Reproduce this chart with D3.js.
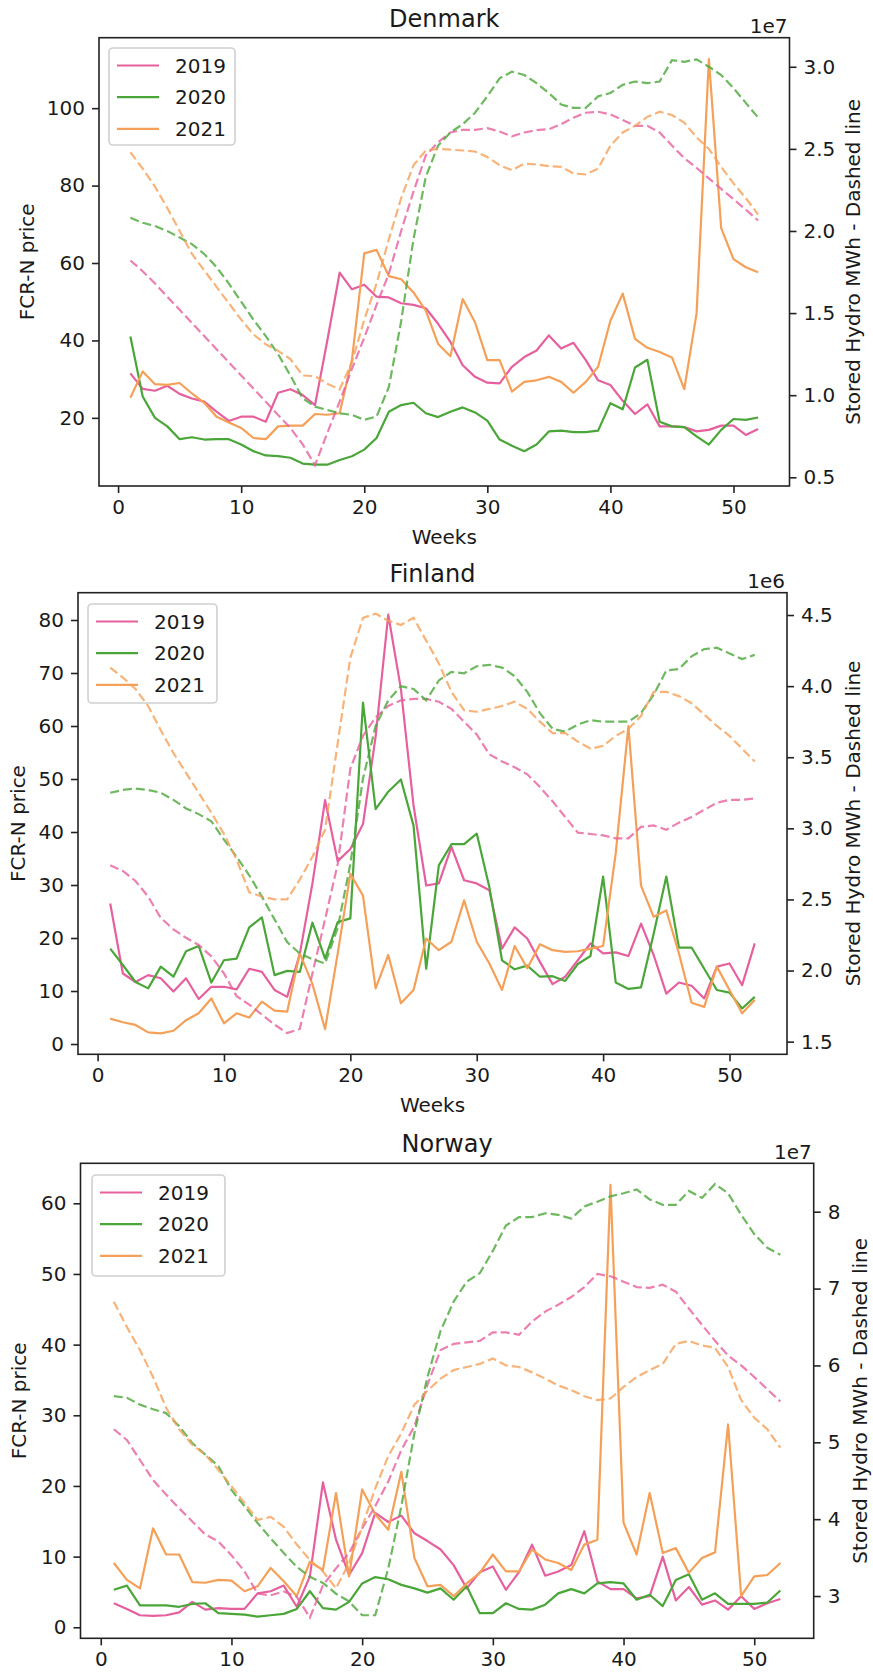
<!DOCTYPE html>
<html><head><meta charset="utf-8">
<script src="https://cdn.jsdelivr.net/npm/d3@7"></script>
<style>
body{margin:0;background:#fff}
text{font-family:"DejaVu Sans",sans-serif;fill:#1a1a1a}
</style>
</head><body>
<svg id="c" width="873" height="1677"></svg>
<script>
// ---------- DATA ----------
const weeks = d3.range(1, 53);
const years = ["2019", "2020", "2021"];
const colors = ["#e6609e", "#4aa638", "#f5a058"];
const xTicks = [0, 10, 20, 30, 40, 50];

// Denmark FCR-N price
const dk_price_2019 = [31.5,27.5,27,28.3,26.2,25,24.2,21.6,19.2,20.3,20.3,19,26.5,27.4,25.9,23.3,40,57.5,53.2,54.4,51.3,51.1,49.6,49.2,48.3,44.3,39.6,33.6,30.6,29.1,28.9,33.2,35.7,37.4,41.3,37.9,39.4,34.9,29.7,28.5,24.4,21,23.5,17.8,17.8,17.6,16.5,16.9,18,18,15.6,17.1];
const dk_price_2020 = [41,25.5,20,17.8,14.5,15,14.4,14.5,14.5,13.1,11.4,10.3,10.1,9.7,8.2,7.9,7.9,9.1,10.1,11.8,14.8,21.6,23.3,23.9,21.2,20.2,21.6,22.7,21.4,19.3,14.4,12.8,11.4,13.1,16.5,16.7,16.3,16.3,16.7,23.8,22.2,33,35,19,17.8,17.6,15.2,13.1,16.9,19.7,19.5,20.1];
const dk_price_2021 = [25.2,32,28.7,28.5,29,26.3,23.9,20.3,18.8,17.4,14.8,14.5,17.8,18,18,21,20.8,21.2,35,62.5,63.4,56.6,55.8,52.4,47.7,39.1,35.9,50.7,44.7,34.9,34.9,26.8,29.3,29.7,30.6,29.3,26.5,29.3,33.2,45.1,52.1,40.4,38.1,37,35.6,27.4,47,112.7,69,61,58.9,57.6];
// Denmark stored hydro (x 1e7 MWh)
const dk_hydro_2019 = [1.82,1.755,1.68,1.6,1.52,1.44,1.36,1.28,1.2,1.12,1.04,0.96,0.88,0.8,0.7,0.574,0.77,0.96,1.16,1.35,1.55,1.74,2.0,2.24,2.46,2.54,2.6,2.616,2.616,2.626,2.606,2.576,2.6,2.614,2.62,2.65,2.69,2.72,2.726,2.71,2.676,2.64,2.64,2.6,2.52,2.444,2.384,2.32,2.256,2.194,2.13,2.064];
const dk_hydro_2020 = [2.08,2.05,2.03,2.0,1.96,1.92,1.86,1.78,1.68,1.57,1.46,1.36,1.25,1.12,0.98,0.93,0.91,0.89,0.88,0.85,0.87,1.05,1.45,1.95,2.33,2.52,2.6,2.65,2.72,2.82,2.93,2.97,2.95,2.9,2.84,2.77,2.75,2.75,2.82,2.84,2.89,2.91,2.9,2.91,3.04,3.03,3.045,3.0,2.95,2.87,2.78,2.69];
const dk_hydro_2021 = [2.48,2.38,2.27,2.14,2.0,1.86,1.76,1.66,1.56,1.46,1.37,1.31,1.27,1.22,1.12,1.116,1.07,1.035,1.2,1.46,1.68,1.95,2.2,2.4,2.49,2.5,2.495,2.49,2.484,2.45,2.4,2.37,2.41,2.405,2.395,2.39,2.35,2.345,2.38,2.52,2.6,2.64,2.695,2.726,2.706,2.66,2.57,2.5,2.39,2.29,2.2,2.1];

// Finland FCR-N price
const fi_price_2019 = [26.5,13.3,11.7,13,12.4,9.9,12.4,8.5,10.8,10.8,10.3,14.2,13.6,10.2,8.9,17,30.3,46,34.5,36.8,41.5,58,81,67,45,29.9,30.3,37.2,30.9,30.3,29,18,22,19.9,15.5,11.3,12.7,15.8,19,17.1,17.3,16.6,22.7,16.8,9.5,11.6,11,8.6,14.6,15.2,11.1,19];
const fi_price_2020 = [18,14.9,11.7,10.5,14.6,12.7,17.5,18.5,11.6,15.8,16.1,22,23.9,13,13.8,13.6,22.9,16.1,23,23.7,64.4,44.3,47.6,49.9,41.2,14.2,33.7,37.7,37.7,39.7,29.6,15.8,14.1,14.8,12.7,12.8,11.9,15.1,16.6,31.6,11.6,10.4,10.7,20.8,31.6,18.2,18.2,14.2,10.2,9.7,6.7,8.9];
const fi_price_2021 = [4.8,4.1,3.6,2.2,2.0,2.5,4.5,5.8,8.6,3.9,5.8,5.0,8.0,6.3,6.1,17.1,11.3,2.8,17.1,32.1,28,10.5,16.8,7.7,10.2,19.9,17.7,19.3,27.1,19.3,15.2,10.2,18.5,14.3,18.8,17.7,17.4,17.5,18,18.5,36,60,29.9,24,25.2,17.1,7.8,7,14.6,10.2,5.8,8.3];
// Finland stored hydro (x 1e6 MWh)
const fi_hydro_2019 = [2.74,2.7,2.63,2.52,2.37,2.29,2.23,2.18,2.1,1.98,1.82,1.76,1.69,1.62,1.56,1.59,1.98,2.36,2.75,3.42,3.65,3.78,3.86,3.9,3.91,3.91,3.89,3.84,3.75,3.66,3.52,3.47,3.43,3.38,3.29,3.19,3.08,2.97,2.96,2.95,2.93,2.93,3.01,3.02,2.99,3.04,3.08,3.13,3.18,3.2,3.2,3.21];
const fi_hydro_2020 = [3.25,3.27,3.28,3.27,3.25,3.2,3.14,3.1,3.05,2.92,2.8,2.67,2.52,2.36,2.2,2.12,2.08,2.05,2.3,2.75,3.35,3.72,3.9,4.0,3.98,3.9,4.04,4.1,4.09,4.14,4.15,4.13,4.07,3.96,3.81,3.7,3.68,3.73,3.76,3.75,3.75,3.75,3.81,3.94,4.11,4.12,4.21,4.26,4.27,4.23,4.19,4.22];
const fi_hydro_2021 = [4.13,4.06,3.98,3.86,3.69,3.53,3.39,3.25,3.11,2.96,2.78,2.55,2.52,2.5,2.5,2.64,2.8,2.99,3.6,4.2,4.48,4.51,4.46,4.43,4.48,4.32,4.16,3.96,3.83,3.82,3.84,3.86,3.89,3.84,3.75,3.67,3.67,3.61,3.56,3.58,3.65,3.7,3.79,3.96,3.96,3.93,3.88,3.8,3.72,3.65,3.56,3.47];

// Norway FCR-N price
const no_price_2019 = [3.4,2.6,1.7,1.6,1.7,2.1,3.6,2.5,2.7,2.6,2.6,4.8,5.1,5.9,2.9,7.2,20.5,12.4,7.4,10.5,16.2,14.9,15.8,13.3,12.2,11,8.8,5.5,7.8,8.6,5.3,7.8,11.7,7.3,7.9,8.8,13.6,6.5,5.4,5.4,4.1,4.4,10,3.8,5.7,3.2,3.8,2.5,4.4,2.6,3.4,4];
const no_price_2020 = [5.3,5.9,3.1,3.1,3.1,2.9,3.3,3.4,2.0,1.9,1.8,1.5,1.7,1.9,2.6,5.1,2.7,2.5,3.6,6.2,7.1,6.8,6.0,5.5,4.9,5.5,3.9,5.8,2.0,2.0,3.4,2.6,2.5,3.2,4.8,5.4,4.8,6.2,6.4,6.2,3.9,4.6,3.0,6.7,7.5,3.9,4.8,3.3,3.3,3.3,3.5,5.2];
const no_price_2021 = [9.1,6.7,5.5,14,10.3,10.3,6.4,6.3,6.7,6.6,5.1,5.8,8.4,6.5,4.4,9.3,8.1,19,7.2,19.5,16,13.8,22,9.8,5.8,6,4.4,6.2,7.7,10.3,7.9,7.9,11,9.6,9.1,8.1,11.7,12.4,62.6,14.8,10.3,19,10.5,11.2,7.7,9.8,10.6,28.7,4.4,7.2,7.4,9.1];
// Norway stored hydro (x 1e7 MWh)
const no_hydro_2019 = [5.17,5.03,4.77,4.51,4.32,4.14,3.97,3.8,3.71,3.53,3.32,3.03,3.01,3.06,2.99,2.72,3.14,3.36,3.56,3.88,4.17,4.49,4.9,5.21,5.75,6.2,6.28,6.3,6.32,6.43,6.43,6.4,6.57,6.7,6.79,6.89,7.02,7.19,7.16,7.09,7.02,7.01,7.05,6.96,6.74,6.53,6.32,6.13,6.0,5.85,5.69,5.53];
const no_hydro_2020 = [5.6,5.58,5.49,5.43,5.38,5.21,4.99,4.84,4.69,4.38,4.17,3.95,3.75,3.56,3.38,3.25,3.17,3.03,2.93,2.75,2.75,3.36,4.17,5.12,5.85,6.45,6.83,7.09,7.2,7.49,7.82,7.93,7.93,7.98,7.96,7.91,8.07,8.13,8.2,8.24,8.29,8.16,8.09,8.09,8.27,8.18,8.36,8.24,7.96,7.71,7.53,7.44];
const no_hydro_2021 = [6.83,6.5,6.2,5.85,5.45,5.17,4.97,4.84,4.64,4.43,4.21,3.99,4.03,3.9,3.67,3.47,3.32,3.1,3.43,3.9,4.4,4.82,5.12,5.49,5.67,5.83,5.94,5.98,6.02,6.09,6.0,5.98,5.91,5.83,5.74,5.68,5.6,5.55,5.57,5.72,5.85,5.94,6.02,6.28,6.32,6.26,6.23,5.98,5.55,5.32,5.17,4.93];

// tick labels
const dk_left_ticks = [20, 40, 60, 80, 100];
const dk_right_ticks = [0.5, 1.0, 1.5, 2.0, 2.5, 3.0];
const fi_left_ticks = [0, 10, 20, 30, 40, 50, 60, 70, 80];
const fi_right_ticks = [1.5, 2.0, 2.5, 3.0, 3.5, 4.0, 4.5];
const no_left_ticks = [0, 10, 20, 30, 40, 50, 60];
const no_right_ticks = [3, 4, 5, 6, 7, 8];

// ---------- LAYOUT ----------
const panels = [
  {title:"Denmark", price:[dk_price_2019,dk_price_2020,dk_price_2021], hydro:[dk_hydro_2019,dk_hydro_2020,dk_hydro_2021],
   lt:dk_left_ticks, rt:dk_right_ticks, rfmt:d3.format(".1f"), offset:"1e7",
   box:{l:99,r:789.5,t:37.7,b:486}, yL:[2.4,118.2], yR:[0.447,3.177], xlabel:true,
   ylabX:34, yrabX:860, leg:{x:109,y:48,w:126,h:97}},
  {title:"Finland", price:[fi_price_2019,fi_price_2020,fi_price_2021], hydro:[fi_hydro_2019,fi_hydro_2020,fi_hydro_2021],
   lt:fi_left_ticks, rt:fi_right_ticks, rfmt:d3.format(".1f"), offset:"1e6",
   box:{l:78,r:787,t:592.7,b:1054.3}, yL:[-1.94,85.15], yR:[1.411,4.657], xlabel:true,
   ylabX:25, yrabX:860, leg:{x:88,y:604,w:129,h:99}},
  {title:"Norway", price:[no_price_2019,no_price_2020,no_price_2021], hydro:[no_hydro_2019,no_hydro_2020,no_hydro_2021],
   lt:no_left_ticks, rt:no_right_ticks, rfmt:d3.format("d"), offset:"1e7",
   box:{l:80.5,r:813.7,t:1163.3,b:1638.3}, yL:[-1.56,65.66], yR:[2.45,8.63], xlabel:false,
   ylabX:26, yrabX:867, leg:{x:92,y:1175,w:133,h:101}}
];

const svg = d3.select("#c");
const FS = 20;

panels.forEach(p => {
  const b = p.box;
  const x = d3.scaleLinear().domain([-1.55, 54.55]).range([b.l, b.r]);
  const yL = d3.scaleLinear().domain(p.yL).range([b.b, b.t]);
  const yR = d3.scaleLinear().domain(p.yR).range([b.b, b.t]);
  const g = svg.append("g");

  const styleAxis = sel => {
    sel.select(".domain").remove();
    sel.selectAll(".tick line").attr("stroke", "#222").attr("stroke-width", 1.6);
    sel.selectAll(".tick text").attr("font-size", FS).attr("fill", "#1a1a1a")
      .style("font-family", '"DejaVu Sans",sans-serif');
  };
  g.append("g").attr("transform", `translate(0,${b.b})`)
    .call(d3.axisBottom(x).tickValues(xTicks).tickSize(7).tickPadding(7).tickFormat(d3.format("d")))
    .call(styleAxis);
  g.append("g").attr("transform", `translate(${b.l},0)`)
    .call(d3.axisLeft(yL).tickValues(p.lt).tickSize(7).tickPadding(7).tickFormat(d3.format("d")))
    .call(styleAxis);
  g.append("g").attr("transform", `translate(${b.r},0)`)
    .call(d3.axisRight(yR).tickValues(p.rt).tickSize(7).tickPadding(7).tickFormat(p.rfmt))
    .call(styleAxis);

  const clipId = "clip" + p.title;
  svg.append("clipPath").attr("id", clipId).append("rect")
    .attr("x", b.l).attr("y", b.t).attr("width", b.r - b.l).attr("height", b.b - b.t);

  const lineL = d3.line().x((d, i) => x(weeks[i])).y(d => yL(d));
  const lineR = d3.line().x((d, i) => x(weeks[i])).y(d => yR(d));
  const plot = g.append("g").attr("clip-path", `url(#${clipId})`);
  p.price.forEach((s, k) => {
    plot.append("path").attr("d", lineL(s)).attr("fill", "none")
      .attr("stroke", colors[k]).attr("stroke-width", 2.2).attr("stroke-linejoin", "round");
  });

  // legend
  const L = p.leg;
  const lg = g.append("g");
  lg.append("rect").attr("x", L.x).attr("y", L.y).attr("width", L.w).attr("height", L.h)
    .attr("rx", 4).attr("fill", "#fff").attr("fill-opacity", 0.8).attr("stroke", "#d0d0d0").attr("stroke-width", 1.6);
  years.forEach((yr, k) => {
    const cy = L.y + 17.5 + k * 31.7;
    lg.append("line").attr("x1", L.x + 8).attr("x2", L.x + 50).attr("y1", cy).attr("y2", cy)
      .attr("stroke", colors[k]).attr("stroke-width", 2.2);
    lg.append("text").attr("x", L.x + 66).attr("y", cy).attr("dy", "0.36em").attr("font-size", FS).text(yr);
  });

  // hydro dashed lines (twin axes, on top)
  const plot2 = g.append("g").attr("clip-path", `url(#${clipId})`);
  p.hydro.forEach((s, k) => {
    plot2.append("path").attr("d", lineR(s)).attr("fill", "none")
      .attr("stroke", colors[k]).attr("stroke-width", 2.2).attr("stroke-dasharray", "9,4")
      .attr("stroke-opacity", 0.8);
  });

  g.append("rect").attr("x", b.l).attr("y", b.t).attr("width", b.r - b.l).attr("height", b.b - b.t)
    .attr("fill", "none").attr("stroke", "#222").attr("stroke-width", 1.6);

  g.append("text").attr("x", (b.l + b.r) / 2).attr("y", b.t - 11).attr("text-anchor", "middle")
    .attr("font-size", 24).text(p.title);
  g.append("text").attr("x", b.r - 2).attr("y", b.t - 4.5).attr("text-anchor", "end")
    .attr("font-size", FS).text(p.offset);
  if (p.xlabel) {
    g.append("text").attr("x", (b.l + b.r) / 2).attr("y", b.b + 58).attr("text-anchor", "middle")
      .attr("font-size", FS).text("Weeks");
  }
  const cy = (b.t + b.b) / 2;
  g.append("text").attr("transform", `translate(${p.ylabX},${cy}) rotate(-90)`).attr("text-anchor", "middle")
    .attr("font-size", FS).text("FCR-N price");
  g.append("text").attr("transform", `translate(${p.yrabX},${cy}) rotate(-90)`).attr("text-anchor", "middle")
    .attr("font-size", FS).text("Stored Hydro MWh - Dashed line");
});
</script>
</body></html>
